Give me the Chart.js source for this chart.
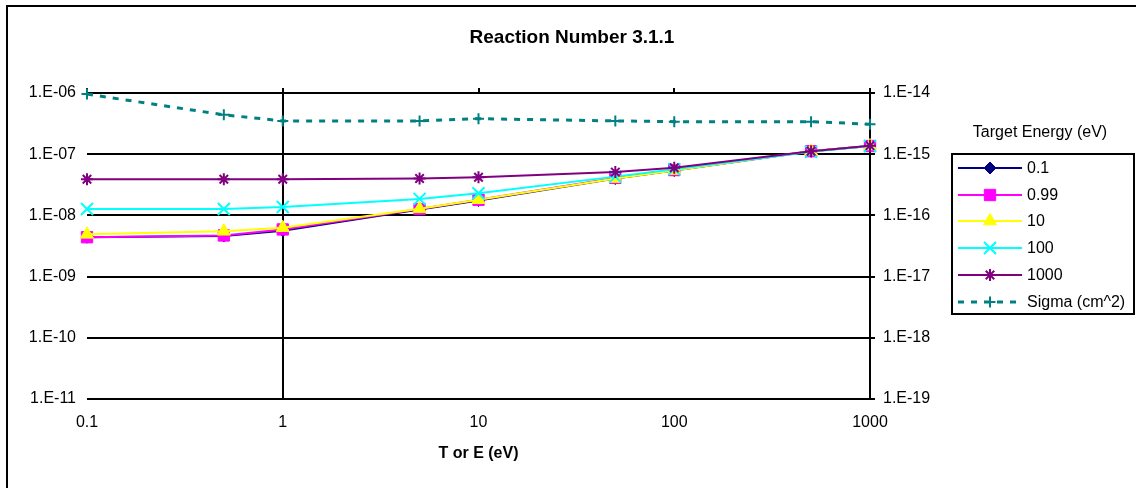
<!DOCTYPE html>
<html>
<head>
<meta charset="utf-8">
<title>Reaction Number 3.1.1</title>
<script src="https://cdn.jsdelivr.net/npm/chart.js@4.4.0/dist/chart.umd.min.js"></script>
<style>
  html, body { margin: 0; padding: 0; background: #ffffff; }
  canvas { display: block; }
</style>
</head>
<body>
<canvas id="reactionChart" width="1136" height="488"></canvas>
<script>
// x values: T or E (eV)
const energies = [0.1, 0.5, 1, 5, 10, 50, 100, 500, 1000];

// rate coefficients, one list per target energy (left axis)
const target01   = [4.4e-9, 4.6e-9, 5.6e-9, 1.25e-8, 1.75e-8, 4.0e-8, 5.4e-8, 1.12e-7, 1.36e-7];
const target099  = [4.4e-9, 4.7e-9, 5.9e-9, 1.27e-8, 1.8e-8, 4.1e-8, 5.5e-8, 1.12e-7, 1.36e-7];
const target10   = [4.9e-9, 5.5e-9, 6.3e-9, 1.28e-8, 1.8e-8, 4.0e-8, 5.4e-8, 1.12e-7, 1.36e-7];
const target100  = [1.27e-8, 1.27e-8, 1.37e-8, 1.86e-8, 2.3e-8, 4.3e-8, 5.7e-8, 1.1e-7, 1.36e-7];
const target1000 = [3.9e-8, 3.9e-8, 3.9e-8, 4.0e-8, 4.2e-8, 5.1e-8, 6.0e-8, 1.12e-7, 1.38e-7];

// cross section (right axis)
const sigma = [9.6e-15, 4.4e-15, 3.5e-15, 3.5e-15, 3.8e-15, 3.5e-15, 3.4e-15, 3.4e-15, 3.1e-15];

// tick values and labels
const xTicks = [0.1, 1, 10, 100, 1000];
const xTickLabels = ['0.1', '1', '10', '100', '1000'];
const yTicks = [1e-11, 1e-10, 1e-9, 1e-8, 1e-7, 1e-6];
const yTickLabels = ['1.E-11', '1.E-10', '1.E-09', '1.E-08', '1.E-07', '1.E-06'];
const y2Ticks = [1e-19, 1e-18, 1e-17, 1e-16, 1e-15, 1e-14];
const y2TickLabels = ['1.E-19', '1.E-18', '1.E-17', '1.E-16', '1.E-15', '1.E-14'];

const seriesNames = ['0.1', '0.99', '10', '100', '1000', 'Sigma (cm^2)'];

const FONT = '"Liberation Sans", Arial, sans-serif';
Chart.defaults.font.family = FONT;
Chart.defaults.font.size = 16;
Chart.defaults.color = '#000000';

function toPoints(values) {
  return energies.map((e, i) => ({ x: e, y: values[i] }));
}

function labelFor(ticks, labels, value) {
  const idx = ticks.findIndex(t => Math.abs(Math.log10(t) - Math.log10(value)) < 1e-6);
  return idx >= 0 ? labels[idx] : '';
}

function setTicks(ticks) {
  return function(scale) {
    scale.ticks = ticks.map(v => ({ value: v }));
  };
}

/**
 * Marker drawing for the legend (same styles as the chart points)
 */
function drawMarker(ctx, ds, x, y) {
  if (Chart.helpers && Chart.helpers.drawPoint) {
    ctx.save();
    ctx.fillStyle = ds.pointBackgroundColor;
    ctx.strokeStyle = ds.pointBorderColor;
    ctx.lineWidth = ds.pointBorderWidth;
    Chart.helpers.drawPoint(ctx, {
      pointStyle: ds.pointStyle,
      radius: ds.pointRadius,
      rotation: 0,
      borderWidth: ds.pointBorderWidth
    }, x, y);
    ctx.restore();
  }
}

// outer frame, chart title and legend
const decorPlugin = {
  id: 'decor',
  afterDraw(chart) {
    const ctx = chart.ctx;
    ctx.save();

    // chart border (only top and left visible)
    ctx.strokeStyle = '#000000';
    ctx.lineWidth = 2;
    ctx.beginPath();
    ctx.moveTo(7, 488);
    ctx.lineTo(7, 6);
    ctx.lineTo(1136, 6);
    ctx.stroke();

    // title
    ctx.fillStyle = '#000000';
    ctx.textAlign = 'center';
    ctx.textBaseline = 'middle';
    ctx.font = 'bold 19px ' + FONT;
    ctx.fillText('Reaction Number 3.1.1', 572, 38);

    // legend title
    ctx.font = '16px ' + FONT;
    ctx.fillText('Target Energy (eV)', 1040, 133);

    // legend box
    ctx.lineWidth = 2;
    ctx.strokeRect(952, 154, 182, 160);

    const rowY = [168, 195, 221, 248, 275, 302];
    chart.data.datasets.forEach((ds, i) => {
      const y = rowY[i];
      ctx.save();
      ctx.strokeStyle = ds.borderColor;
      ctx.lineWidth = ds.borderWidth;
      ctx.setLineDash(ds.borderDash || []);
      ctx.beginPath();
      ctx.moveTo(958, y);
      ctx.lineTo(1022, y);
      ctx.stroke();
      ctx.restore();
      drawMarker(ctx, ds, 990, y);
      ctx.fillStyle = '#000000';
      ctx.textAlign = 'left';
      ctx.textBaseline = 'middle';
      ctx.font = '16px ' + FONT;
      ctx.fillText(ds.label, 1027, y + 1);
    });

    ctx.restore();
  }
};

function makeSeries(label, values, color, style, radius, borderW, axis) {
  return {
    label: label,
    data: toPoints(values),
    yAxisID: axis || 'y',
    borderColor: color,
    backgroundColor: color,
    borderWidth: 2,
    pointStyle: style,
    pointRadius: radius,
    pointHoverRadius: radius,
    pointBackgroundColor: color,
    pointBorderColor: color,
    pointBorderWidth: borderW,
    tension: 0,
    fill: false,
    clip: false
  };
}

const datasets = [
  makeSeries(seriesNames[0], target01, '#000080', 'rectRot', 6, 1),
  makeSeries(seriesNames[1], target099, '#FF00FF', 'rect', 8, 1),
  makeSeries(seriesNames[2], target10, '#FFFF00', 'triangle', 7.5, 1),
  makeSeries(seriesNames[3], target100, '#00FFFF', 'crossRot', 8.5, 2),
  makeSeries(seriesNames[4], target1000, '#800080', 'star', 6, 2),
  makeSeries(seriesNames[5], sigma, '#008080', 'cross', 5.5, 2, 'y2')
];
datasets[5].borderWidth = 3;
datasets[5].borderDash = [6, 7];
// later series are painted on top, like the original
datasets.forEach((ds, i) => { ds.order = datasets.length - i; });

const ctx = document.getElementById('reactionChart');
new Chart(ctx, {
  type: 'line',
  data: { datasets: datasets },
  plugins: [decorPlugin],
  options: {
    responsive: false,
    animation: false,
    devicePixelRatio: 1,
    layout: { padding: { top: 88, left: 0, right: 0, bottom: 0 } },
    plugins: {
      legend: { display: false },
      title: { display: false },
      tooltip: { enabled: false }
    },
    scales: {
      x: {
        type: 'logarithmic',
        position: 'bottom',
        min: 0.1,
        max: 1000,
        afterBuildTicks: setTicks(xTicks),
        afterFit: function(scale) { scale.height = 89; },
        grid: {
          drawTicks: false,
          lineWidth: 2,
          color: c => (c.tick && Math.abs(c.tick.value - 1) < 1e-9) ? '#000000' : 'rgba(0,0,0,0)'
        },
        border: { display: false },
        ticks: {
          padding: 14,
          maxRotation: 0,
          autoSkip: false,
          callback: v => labelFor(xTicks, xTickLabels, v)
        },
        title: {
          display: true,
          text: 'T or E (eV)',
          font: { size: 16, weight: 'bold' },
          padding: { top: 0, bottom: 25 }
        }
      },
      xTop: {
        type: 'logarithmic',
        position: 'top',
        min: 0.1,
        max: 1000,
        afterBuildTicks: setTicks(xTicks),
        afterFit: function(scale) { scale.height = 5; },
        grid: { drawOnChartArea: false, drawTicks: true, tickLength: 5, color: '#000000', lineWidth: 2 },
        border: { display: false },
        ticks: { display: false }
      },
      y: {
        type: 'logarithmic',
        position: 'left',
        min: 1e-11,
        max: 1e-6,
        afterBuildTicks: setTicks(yTicks),
        afterFit: function(scale) { scale.width = 87; },
        grid: { drawTicks: false, color: '#000000', lineWidth: 2 },
        border: { display: false },
        ticks: {
          padding: 11,
          autoSkip: false,
          callback: v => labelFor(yTicks, yTickLabels, v)
        }
      },
      y2: {
        type: 'logarithmic',
        position: 'right',
        min: 1e-19,
        max: 1e-14,
        afterBuildTicks: setTicks(y2Ticks),
        afterFit: function(scale) { scale.width = 266; },
        grid: { drawOnChartArea: false, drawTicks: true, tickLength: 5, color: '#000000', lineWidth: 2 },
        border: { display: true, color: '#000000', width: 2 },
        ticks: {
          padding: 8,
          autoSkip: false,
          callback: v => labelFor(y2Ticks, y2TickLabels, v)
        }
      }
    }
  }
});
</script>
</body>
</html>
